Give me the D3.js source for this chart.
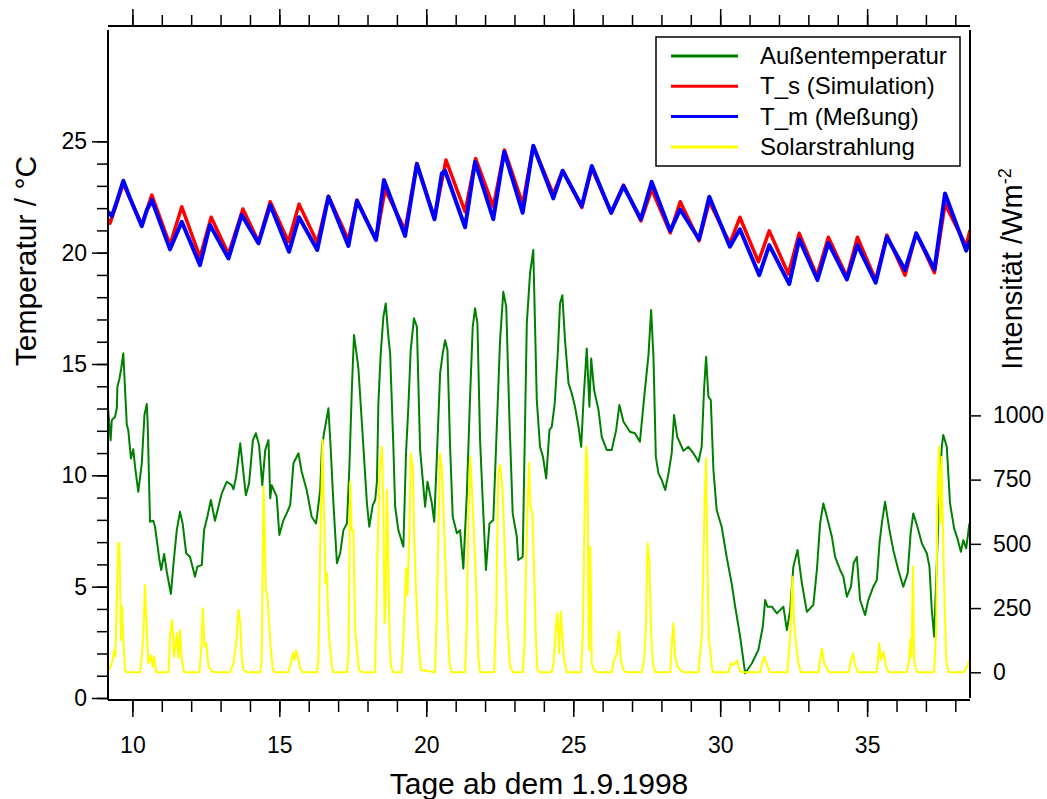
<!DOCTYPE html>
<html>
<head>
<meta charset="utf-8">
<script src="https://cdn.jsdelivr.net/npm/d3@7"></script>
<style>
  body { margin: 0; background: #fff; }
  svg { display: block; font-family: "Liberation Sans", Arial, sans-serif; }
</style>
</head>
<body>
<div id="chart"></div>
<script>
// [Tag, °C] – Außentemperatur
const aussen = [
  [9.17, 13.01], [9.26, 11.58], [9.30, 12.48], [9.41, 12.63], [9.47, 13.01], [9.49, 13.98], [9.56, 14.35],
  [9.62, 14.80], [9.69, 15.48], [9.81, 12.26], [9.86, 12.03], [9.95, 10.76], [10.03, 11.17], [10.09, 10.39],
  [10.20, 9.26], [10.32, 10.54], [10.41, 12.71], [10.49, 13.20], [10.52, 12.33], [10.60, 7.92], [10.71, 7.96],
  [10.77, 7.69], [10.83, 7.09], [10.92, 6.20], [10.98, 5.75], [11.08, 6.47], [11.17, 5.67], [11.31, 4.67],
  [11.40, 6.05], [11.51, 7.54], [11.62, 8.36], [11.71, 7.84], [11.83, 6.50], [11.96, 6.34], [12.13, 5.45],
  [12.21, 5.90], [12.36, 5.97], [12.44, 7.54], [12.55, 8.14], [12.67, 8.89], [12.81, 7.96], [13.04, 9.19],
  [13.21, 9.71], [13.38, 9.56], [13.44, 9.37], [13.53, 9.94], [13.67, 11.44], [13.78, 10.09], [13.86, 9.11],
  [13.97, 9.64], [14.10, 11.58], [14.20, 11.89], [14.31, 11.36], [14.42, 9.56], [14.52, 11.14], [14.63, 11.58],
  [14.69, 8.97], [14.74, 9.56], [14.91, 9.04], [15.00, 7.32], [15.14, 7.99], [15.25, 8.29], [15.37, 8.67],
  [15.48, 10.54], [15.65, 10.99], [15.76, 10.16], [15.93, 9.34], [16.10, 8.14], [16.25, 7.84], [16.39, 9.34],
  [16.45, 11.28], [16.52, 11.89], [16.62, 12.63], [16.67, 13.01], [16.75, 11.14], [16.84, 8.74], [16.96, 6.05],
  [17.07, 6.50], [17.18, 7.54], [17.30, 7.84], [17.38, 10.24], [17.47, 13.98], [17.54, 16.30], [17.61, 15.63],
  [17.69, 14.80], [17.81, 12.33], [17.98, 8.74], [18.06, 7.69], [18.18, 8.67], [18.26, 8.89], [18.32, 9.71],
  [18.37, 13.23], [18.45, 15.48], [18.54, 17.12], [18.62, 17.72], [18.71, 16.22], [18.77, 15.48], [18.88, 11.28],
  [18.94, 8.59], [19.05, 7.54], [19.22, 6.79], [19.31, 10.99], [19.39, 13.08], [19.47, 15.63], [19.58, 17.05],
  [19.68, 16.67], [19.79, 11.14], [19.90, 9.49], [19.96, 8.59], [20.04, 9.71], [20.19, 8.74], [20.27, 7.92],
  [20.36, 10.83], [20.47, 14.58], [20.56, 15.48], [20.64, 16.07], [20.72, 15.63], [20.81, 11.28], [20.90, 8.14],
  [21.04, 7.40], [21.15, 7.54], [21.26, 5.82], [21.38, 9.19], [21.49, 13.53], [21.58, 16.67], [21.66, 17.50],
  [21.74, 16.82], [21.83, 11.58], [21.92, 8.89], [22.03, 5.75], [22.15, 7.84], [22.28, 7.99], [22.40, 12.18],
  [22.51, 16.07], [22.62, 18.24], [22.72, 17.57], [22.83, 12.48], [22.94, 8.29], [23.08, 7.24], [23.13, 6.20],
  [23.28, 6.34], [23.42, 16.82], [23.53, 19.07], [23.64, 20.12], [23.76, 13.38], [23.87, 11.28], [23.97, 10.83],
  [24.08, 9.86], [24.19, 12.03], [24.27, 12.18], [24.37, 13.23], [24.48, 15.63], [24.55, 17.72], [24.63, 18.09],
  [24.72, 16.07], [24.84, 14.13], [24.95, 13.68], [25.06, 13.08], [25.18, 12.18], [25.27, 11.28], [25.35, 13.38],
  [25.46, 15.70], [25.55, 13.08], [25.61, 15.25], [25.71, 13.83], [25.86, 12.93], [25.97, 11.73], [26.14, 11.14],
  [26.31, 11.14], [26.46, 12.03], [26.57, 13.16], [26.71, 12.41], [26.93, 11.96], [27.10, 11.89], [27.27, 11.51],
  [27.41, 13.46], [27.56, 15.40], [27.65, 17.42], [27.73, 15.32], [27.81, 10.83], [27.90, 10.09], [28.01, 9.79],
  [28.13, 9.34], [28.24, 10.09], [28.35, 10.99], [28.43, 12.71], [28.54, 11.73], [28.75, 11.10], [28.92, 11.28],
  [29.09, 10.99], [29.26, 10.61], [29.37, 11.28], [29.45, 13.83], [29.52, 15.32], [29.60, 13.53], [29.68, 13.38],
  [29.77, 10.24], [29.88, 8.44], [30.05, 7.69], [30.22, 6.34], [30.39, 5.15], [30.51, 4.10], [30.68, 2.75],
  [30.85, 1.11], [31.08, 1.56], [31.30, 2.16], [31.45, 3.20], [31.53, 4.40], [31.61, 4.10], [31.76, 4.10],
  [31.93, 3.80], [32.15, 4.10], [32.27, 3.05], [32.38, 3.95], [32.49, 5.90], [32.63, 6.65], [32.78, 5.15],
  [32.95, 3.87], [33.17, 4.18], [33.29, 5.75], [33.40, 7.84], [33.51, 8.74], [33.63, 8.14], [33.80, 7.24],
  [33.91, 6.34], [34.08, 5.75], [34.19, 5.45], [34.31, 4.55], [34.45, 5.00], [34.54, 6.05], [34.65, 6.34],
  [34.76, 4.40], [34.93, 3.73], [35.04, 4.40], [35.21, 5.00], [35.33, 5.30], [35.42, 6.95], [35.50, 7.84],
  [35.61, 8.81], [35.76, 7.54], [35.89, 6.65], [36.06, 5.75], [36.23, 5.00], [36.38, 5.60], [36.48, 7.40],
  [36.57, 8.29], [36.71, 7.69], [36.86, 6.95], [37.03, 6.50], [37.12, 5.90], [37.20, 3.95], [37.28, 2.75],
  [37.42, 7.84], [37.54, 11.28], [37.59, 11.81], [37.71, 11.28], [37.82, 8.74], [37.96, 7.62], [38.07, 7.17],
  [38.19, 6.57], [38.27, 7.09], [38.37, 6.72], [38.48, 7.84]
];

// [Tag, °C] – T_s (Simulation)
const tSim = [
  [9.17, 21.50], [9.24, 21.32], [9.69, 23.11], [10.32, 21.24], [10.66, 22.59], [11.28, 20.34], [11.68, 22.06],
  [12.30, 19.79], [12.68, 21.59], [13.27, 19.94], [13.76, 21.96], [14.29, 20.49], [14.69, 22.29], [15.31, 20.49],
  [15.67, 22.18], [16.29, 20.44], [16.67, 22.54], [17.35, 20.57], [17.64, 22.36], [18.29, 20.57], [18.60, 22.84],
  [19.28, 21.01], [19.68, 24.01], [20.28, 21.54], [20.67, 24.16], [21.32, 21.84], [21.68, 24.23], [22.28, 22.06],
  [22.66, 24.61], [23.28, 22.18], [23.64, 24.79], [24.32, 22.63], [24.64, 23.68], [25.29, 22.03], [25.63, 23.79],
  [26.29, 21.79], [26.71, 23.04], [27.30, 21.43], [27.67, 22.84], [28.30, 20.89], [28.64, 22.29], [29.28, 20.53],
  [29.63, 22.29], [30.33, 20.42], [30.67, 21.59], [31.30, 19.59], [31.67, 20.98], [32.32, 19.04], [32.69, 20.87],
  [33.29, 18.95], [33.68, 20.69], [34.31, 18.92], [34.67, 20.69], [35.29, 18.77], [35.67, 20.79], [36.29, 18.99],
  [36.67, 20.87], [37.29, 19.10], [37.65, 22.18], [38.37, 20.30], [38.50, 21.01]
];

// [Tag, °C] – T_m (Meßung)
const tMess = [
  [9.17, 21.84], [9.30, 21.64], [9.47, 22.29], [9.69, 23.23], [9.92, 22.44], [10.32, 21.19], [10.49, 21.91],
  [10.66, 22.36], [11.28, 20.15], [11.68, 21.39], [12.30, 19.44], [12.64, 21.24], [13.27, 19.74], [13.72, 21.69],
  [14.29, 20.42], [14.69, 22.14], [15.33, 20.04], [15.67, 21.59], [16.29, 20.12], [16.67, 22.51], [17.35, 20.30],
  [17.64, 22.33], [18.29, 20.57], [18.56, 23.26], [19.28, 20.75], [19.68, 23.98], [20.28, 21.50], [20.53, 23.56],
  [20.64, 23.68], [21.32, 21.14], [21.66, 24.08], [22.28, 21.50], [22.65, 24.53], [23.28, 21.79], [23.64, 24.80],
  [24.32, 22.44], [24.64, 23.68], [25.29, 22.09], [25.63, 23.89], [26.29, 21.79], [26.71, 22.99], [27.30, 21.50],
  [27.67, 23.18], [28.30, 20.98], [28.64, 21.94], [29.28, 20.60], [29.63, 22.51], [30.33, 20.27], [30.67, 21.05],
  [31.33, 18.99], [31.67, 20.34], [32.35, 18.59], [32.69, 20.60], [33.31, 18.77], [33.68, 20.44], [34.31, 18.80],
  [34.67, 20.34], [35.29, 18.65], [35.67, 20.71], [36.29, 19.22], [36.67, 20.87], [37.29, 19.25], [37.65, 22.66],
  [38.37, 20.09], [38.50, 20.57]
];

// [Tag, W/m²] – Solarstrahlung
const solar = [
  [9.17, 0], [9.30, 35], [9.38, 87], [9.42, 61], [9.47, 281], [9.52, 502], [9.56, 502], [9.61, 126], [9.65, 255],
  [9.69, 132], [9.75, 9], [9.81, 0],
  [10.26, 0], [10.32, 61], [10.37, 139], [10.43, 340], [10.49, 165], [10.54, 35], [10.63, 67], [10.69, 22],
  [10.74, 61], [10.81, 0],
  [11.23, 0], [11.28, 139], [11.35, 204], [11.42, 61], [11.51, 152], [11.57, 55], [11.62, 165], [11.68, 48], [11.76, 0],
  [12.28, 0], [12.34, 87], [12.40, 249], [12.45, 100], [12.51, 113], [12.59, 22], [12.67, 9], [12.76, 0],
  [13.32, 0], [13.44, 35], [13.53, 113], [13.61, 243], [13.67, 191], [13.72, 61], [13.78, 9], [13.89, 0],
  [14.35, 0], [14.40, 48], [14.46, 723], [14.49, 606], [14.54, 320], [14.59, 308], [14.65, 191], [14.71, 87],
  [14.78, 9], [14.86, 0],
  [15.31, 0], [15.39, 35], [15.46, 74], [15.51, 48], [15.57, 87], [15.65, 48], [15.71, 16], [15.80, 0],
  [16.28, 0], [16.33, 48], [16.39, 502], [16.43, 684], [16.47, 904], [16.50, 710], [16.53, 593], [16.57, 346],
  [16.62, 385], [16.66, 216], [16.70, 126], [16.79, 22], [16.84, 0],
  [17.30, 0], [17.35, 61], [17.41, 742], [17.46, 554], [17.52, 554], [17.58, 165], [17.64, 87], [17.71, 9], [17.81, 0],
  [18.26, 0], [18.32, 359], [18.41, 788], [18.49, 878], [18.54, 645], [18.58, 191], [18.62, 281], [18.66, 710],
  [18.69, 554], [18.75, 126], [18.80, 22], [18.88, 0],
  [19.16, 0], [19.22, 126], [19.31, 405], [19.36, 301], [19.43, 567], [19.47, 853], [19.54, 800], [19.59, 515],
  [19.65, 320], [19.73, 126], [19.81, 9],
  [20.30, 0], [20.36, 255], [20.41, 541], [20.47, 853], [20.53, 788], [20.58, 645], [20.64, 450], [20.70, 255],
  [20.79, 35], [20.87, 0],
  [21.32, 0], [21.38, 191], [21.43, 580], [21.49, 839], [21.55, 723], [21.63, 515], [21.70, 320], [21.77, 61], [21.83, 0],
  [22.31, 0], [22.38, 255], [22.45, 775], [22.51, 807], [22.59, 723], [22.68, 450], [22.76, 191], [22.85, 22], [22.95, 0],
  [23.28, 0], [23.34, 100], [23.40, 450], [23.46, 697], [23.50, 816], [23.54, 645], [23.61, 619], [23.67, 385],
  [23.73, 126], [23.78, 9], [23.87, 0],
  [24.27, 0], [24.33, 35], [24.41, 178], [24.46, 230], [24.52, 74], [24.58, 236], [24.63, 139], [24.69, 48], [24.78, 0],
  [25.27, 0], [25.33, 165], [25.38, 580], [25.44, 878], [25.48, 826], [25.53, 87], [25.58, 489], [25.63, 35],
  [25.71, 9], [25.80, 0],
  [26.31, 0], [26.37, 41], [26.48, 74], [26.56, 158], [26.62, 48], [26.71, 9], [26.80, 0],
  [27.33, 0], [27.41, 48], [27.47, 171], [27.53, 502], [27.59, 437], [27.65, 152], [27.71, 35], [27.79, 0],
  [28.30, 0], [28.36, 126], [28.41, 191], [28.47, 61], [28.55, 22], [28.64, 9], [28.75, 0],
  [29.26, 0], [29.38, 152], [29.43, 437], [29.47, 671], [29.52, 833], [29.57, 411], [29.61, 126], [29.66, 87],
  [29.73, 9], [29.77, 0],
  [30.28, 0], [30.36, 35], [30.45, 28], [30.57, 48], [30.66, 9], [30.74, 0],
  [31.36, 0], [31.44, 41], [31.50, 61], [31.59, 28], [31.70, 0],
  [32.29, 0], [32.38, 139], [32.46, 372], [32.52, 191], [32.58, 113], [32.66, 35], [32.75, 0],
  [33.34, 0], [33.40, 48], [33.46, 93], [33.54, 35], [33.63, 16], [33.71, 0],
  [34.37, 0], [34.45, 48], [34.52, 74], [34.59, 28], [34.69, 0],
  [35.31, 0], [35.37, 48], [35.41, 113], [35.47, 48], [35.56, 80], [35.64, 22], [35.73, 0],
  [36.35, 0], [36.43, 48], [36.47, 126], [36.51, 61], [36.56, 411], [36.60, 48], [36.67, 9], [36.71, 0],
  [37.28, 0], [37.35, 165], [37.39, 658], [37.44, 878], [37.49, 580], [37.53, 839], [37.58, 554], [37.63, 294],
  [37.69, 48], [37.77, 0],
  [38.28, 0], [38.40, 22], [38.48, 48]
];

const tempTicksMajor = [0, 5, 10, 15, 20, 25];
const tempTicksMinor = d3.range(0, 26);
const solarTicks = [0, 250, 500, 750, 1000];
const dayTicksMajor = [10, 15, 20, 25, 30, 35];
const dayTicksMinor = d3.range(10, 39);

const legendItems = [
  { label: 'Außentemperatur', color: '#008000' },
  { label: 'T_s (Simulation)', color: '#ff0000' },
  { label: 'T_m (Meßung)', color: '#0000ff' },
  { label: 'Solarstrahlung', color: '#ffff00' }
];

const W = 1047, H = 799;
const plotLeft = 108, plotRight = 970, plotTop = 30, plotBottom = 698;

const svg = d3.select('#chart').append('svg')
  .attr('width', W)
  .attr('height', H);

const x = d3.scaleLinear().domain([9.17, 38.5]).range([plotLeft, plotRight]);
const yT = d3.scaleLinear().domain([0, 30]).range([plotBottom, plotTop]);
const yS = d3.scaleLinear().domain([-100, 2500]).range([plotBottom, plotTop]);

svg.append('defs').append('clipPath').attr('id', 'plot')
  .append('rect')
  .attr('x', plotLeft).attr('y', 26)
  .attr('width', plotRight - plotLeft).attr('height', 700 - 26);

// Curves (order as in legend: green, red, blue, yellow)
const lineT = d3.line().x(d => x(d[0])).y(d => yT(d[1]));
const lineS = d3.line().x(d => x(d[0])).y(d => yS(d[1]));
const g = svg.append('g').attr('clip-path', 'url(#plot)');

g.append('path').datum(aussen).attr('d', lineT)
  .attr('fill', 'none').attr('stroke', '#008000').attr('stroke-width', 2).attr('stroke-linejoin', 'round');
g.append('path').datum(tSim).attr('d', lineT)
  .attr('fill', 'none').attr('stroke', '#ff0000').attr('stroke-width', 3.5).attr('stroke-linejoin', 'round');
g.append('path').datum(tMess).attr('d', lineT)
  .attr('fill', 'none').attr('stroke', '#0000ff').attr('stroke-width', 4).attr('stroke-linejoin', 'round');
g.append('path').datum(solar).attr('d', lineS)
  .attr('fill', 'none').attr('stroke', '#ffff00').attr('stroke-width', 2).attr('stroke-linejoin', 'round');

// Axes
function styleAxis(sel) {
  sel.select('.domain').remove();
  sel.selectAll('line').attr('stroke', '#000').attr('stroke-width', 1.5);
  sel.selectAll('text').attr('fill', '#000').style('font-size', '23px')
    .style('font-family', '"Liberation Sans", Arial, sans-serif');
}

svg.append('g').attr('transform', `translate(${plotLeft},0)`)
  .call(d3.axisLeft(yT).tickValues(tempTicksMinor).tickSize(11).tickFormat(''))
  .call(styleAxis);
svg.append('g').attr('transform', `translate(${plotLeft},0)`)
  .call(d3.axisLeft(yT).tickValues(tempTicksMajor).tickSize(16).tickPadding(5).tickFormat(d3.format('d')))
  .call(styleAxis);

svg.append('g').attr('transform', `translate(${plotRight},0)`)
  .call(d3.axisRight(yS).tickValues(solarTicks).tickSize(11).tickPadding(12).tickFormat(d3.format('d')))
  .call(styleAxis);

svg.append('g').attr('transform', 'translate(0,700)')
  .call(d3.axisBottom(x).tickValues(dayTicksMinor).tickSize(12).tickFormat(''))
  .call(styleAxis);
svg.append('g').attr('transform', 'translate(0,700)')
  .call(d3.axisBottom(x).tickValues(dayTicksMajor).tickSize(17).tickPadding(20).tickFormat(d3.format('d')))
  .call(styleAxis);

svg.append('g').attr('transform', 'translate(0,26)')
  .call(d3.axisTop(x).tickValues(dayTicksMinor).tickSize(11).tickFormat(''))
  .call(styleAxis);
svg.append('g').attr('transform', 'translate(0,26)')
  .call(d3.axisTop(x).tickValues(dayTicksMajor).tickSize(17).tickFormat(''))
  .call(styleAxis);

// Frame lines
const frame = [
  [plotLeft, plotTop, plotLeft, 700],
  [plotRight, plotTop, plotRight, plotBottom],
  [plotLeft, 700, plotRight, 700],
  [plotLeft, 26, plotRight, 26]
];
svg.append('g').selectAll('line').data(frame).join('line')
  .attr('x1', d => d[0]).attr('y1', d => d[1])
  .attr('x2', d => d[2]).attr('y2', d => d[3])
  .attr('stroke', '#000').attr('stroke-width', 2);

// Axis titles
svg.append('text')
  .attr('transform', 'translate(36,261) rotate(-90)')
  .attr('text-anchor', 'middle')
  .style('font-size', '30px')
  .text('Temperatur / °C');

svg.append('text')
  .attr('x', 539).attr('y', 794)
  .attr('text-anchor', 'middle')
  .style('font-size', '30px')
  .text('Tage ab dem 1.9.1998');

const rt = svg.append('text')
  .attr('transform', 'translate(1022,269) rotate(-90)')
  .attr('text-anchor', 'middle')
  .style('font-size', '29px');
rt.append('tspan').text('Intensität /Wm');
rt.append('tspan').attr('dy', -11).style('font-size', '18px').text('-2');

// Legend
const lg = svg.append('g');
lg.append('rect')
  .attr('x', 656).attr('y', 37).attr('width', 304).attr('height', 129)
  .attr('fill', '#fff').attr('stroke', '#000').attr('stroke-width', 1.5);
const rows = lg.selectAll('g.row').data(legendItems).join('g')
  .attr('class', 'row')
  .attr('transform', (d, i) => `translate(0,${56 + i * 30.3})`);
rows.append('line')
  .attr('x1', 671).attr('x2', 738)
  .attr('stroke', d => d.color).attr('stroke-width', 3);
rows.append('text')
  .attr('x', 760).attr('y', 8)
  .style('font-size', '24px')
  .text(d => d.label);
</script>
</body>
</html>
